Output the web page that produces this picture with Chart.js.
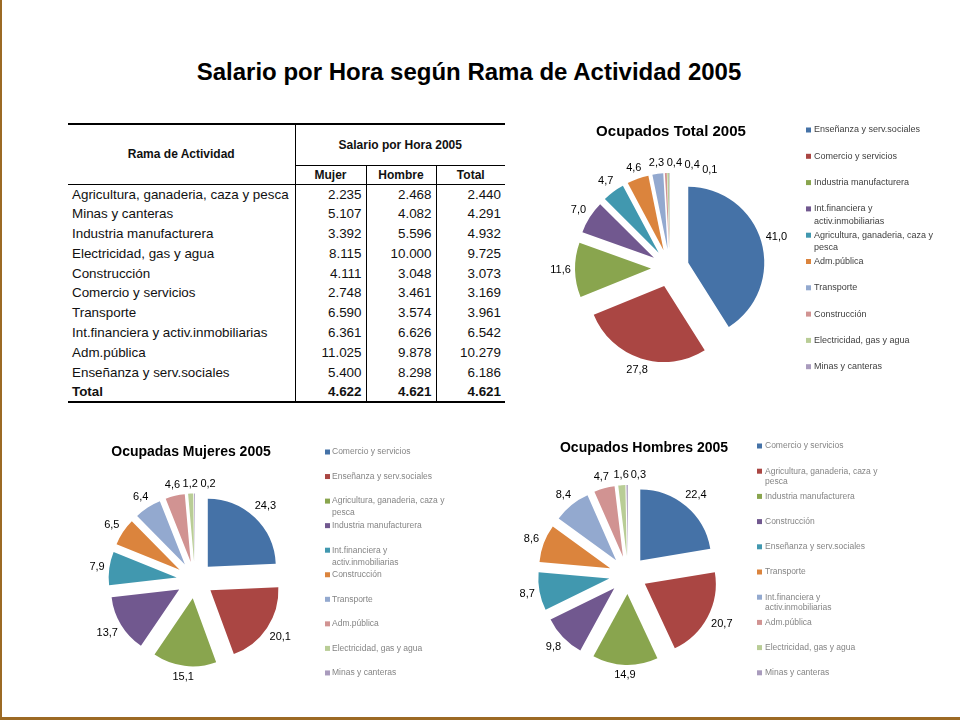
<!DOCTYPE html>
<html>
<head>
<meta charset="utf-8">
<script src="https://cdn.jsdelivr.net/npm/chart.js@4.4.1/dist/chart.umd.min.js"></script>
<style>
html,body{margin:0;padding:0;background:#fff;}
body{width:960px;height:720px;position:relative;overflow:hidden;font-family:"Liberation Sans",Arial,sans-serif;}
#frameL{position:absolute;left:0;top:0;width:2px;height:720px;background:#9C6A24;}
#frameB{position:absolute;left:0;top:717px;width:960px;height:3px;background:#9C6A24;}
#mainTitle{position:absolute;left:0;width:938px;top:58px;line-height:28px;text-align:center;font-weight:bold;font-size:24px;color:#000;}
#tbl{position:absolute;left:68px;top:123px;border-collapse:collapse;table-layout:fixed;width:437px;font-size:13.4px;color:#111;}
#tbl th,#tbl td{padding:0;white-space:nowrap;}
#tbl tr.h1{height:41px;}
#tbl tr.h2{height:19px;}
#tbl tr.d{height:19.8px;}
#tbl tr.h1 th{border-top:2px solid #000;font-size:12px;}
#tbl th.rama{border-right:1px solid #000;border-bottom:1px solid #000;}
#tbl th.sal{border-bottom:1px solid #000;}
#tbl tr.h2 th{border-bottom:1px solid #000;font-size:12px;}
#tbl tr.h2 th:not(:last-child){border-right:1px solid #000;}
#tbl td{text-align:right;padding-right:4px;}
#tbl td:not(:last-child){border-right:1px solid #000;}
#tbl td.lab{text-align:left;padding-left:4px;padding-right:0;}
#tbl tr.tot td{border-bottom:2px solid #000;font-weight:bold;}
canvas{position:absolute;}
</style>
</head>
<body>
<div id="frameL"></div>
<div id="frameB"></div>
<div id="mainTitle">Salario por Hora según Rama de Actividad 2005</div>
<table id="tbl"></table>
<canvas id="cTotal"></canvas>
<canvas id="cMujeres"></canvas>
<canvas id="cHombres"></canvas>
<script>
// ---------- Data ----------
const tableHeaders = ["Rama de Actividad", "Salario por Hora 2005"];
const columnLabels = ["Mujer", "Hombre", "Total"];
const sectors = ["Agricultura, ganaderia, caza y pesca","Minas y canteras","Industria manufacturera","Electricidad, gas y agua","Construcción","Comercio y servicios","Transporte","Int.financiera y activ.inmobiliarias","Adm.pública","Enseñanza y serv.sociales","Total"];
const salarioMujer  = [2235, 5107, 3392, 8115, 4111, 2748, 6590, 6361, 11025, 5400, 4622];
const salarioHombre = [2468, 4082, 5596, 10000, 3048, 3461, 3574, 6626, 9878, 8298, 4621];
const salarioTotal  = [2440, 4291, 4932, 9725, 3073, 3169, 3961, 6542, 10279, 6186, 4621];

const totalTitle = "Ocupados Total 2005";
const totalLabels = ["Enseñanza y serv.sociales","Comercio y servicios","Industria manufacturera","Int.financiera y activ.inmobiliarias","Agricultura, ganaderia, caza y pesca","Adm.pública","Transporte","Construcción","Electricidad, gas y agua","Minas y canteras"];
const totalValues = [41.0, 27.8, 11.6, 7.0, 4.7, 4.6, 2.3, 0.4, 0.4, 0.1];

const mujeresTitle = "Ocupadas Mujeres 2005";
const mujeresLabels = ["Comercio y servicios","Enseñanza y serv.sociales","Agricultura, ganaderia, caza y pesca","Industria manufacturera","Int.financiera y activ.inmobiliarias","Construcción","Transporte","Adm.pública","Electricidad, gas y agua","Minas y canteras"];
const mujeresValues = [24.3, 20.1, 15.1, 13.7, 7.9, 6.5, 6.4, 4.6, 1.2, 0.2];

const hombresTitle = "Ocupados Hombres 2005";
const hombresLabels = ["Comercio y servicios","Agricultura, ganaderia, caza y pesca","Industria manufacturera","Construcción","Enseñanza y serv.sociales","Transporte","Int.financiera y activ.inmobiliarias","Adm.pública","Electricidad, gas y agua","Minas y canteras"];
const hombresValues = [22.4, 20.7, 14.9, 9.8, 8.7, 8.6, 8.4, 4.7, 1.6, 0.3];

const sliceColors = ['#4572A7','#AA4643','#89A54E','#71588F','#4198AF','#DB843D','#93A9CF','#D19392','#B9CD96','#A99BBD'];

// ---------- Table ----------
function fmtInt(n){ return String(n).replace(/\B(?=(\d{3})+(?!\d))/g, '.'); }
function fmtDec(v){ return v.toFixed(1).replace('.', ','); }
(function buildTable(){
  let html = '<colgroup><col style="width:227px"><col style="width:71px"><col style="width:70px"><col style="width:69px"></colgroup>';
  html += '<tr class="h1"><th rowspan="2" class="rama">' + tableHeaders[0] + '</th><th colspan="3" class="sal">' + tableHeaders[1] + '</th></tr>';
  html += '<tr class="h2">' + columnLabels.map(c => '<th>' + c + '</th>').join('') + '</tr>';
  sectors.forEach((s, i) => {
    const cls = 'd' + (i === sectors.length - 1 ? ' tot' : '');
    html += '<tr class="' + cls + '"><td class="lab">' + s + '</td><td>' + fmtInt(salarioMujer[i]) + '</td><td>' + fmtInt(salarioHombre[i]) + '</td><td>' + fmtInt(salarioTotal[i]) + '</td></tr>';
  });
  document.getElementById('tbl').innerHTML = html;
})();

// ---------- Pies ----------
function wrapText(ctx, text, maxW){
  const words = text.split(' '); const lines = []; let cur = '';
  for (const w of words){
    const t = cur ? cur + ' ' + w : w;
    if (ctx.measureText(t).width > maxW && cur){ lines.push(cur); cur = w; } else cur = t;
  }
  lines.push(cur);
  return lines;
}

function makeDeco(cfg){
  return {
    id: 'deco',
    beforeDatasetsDraw(chart){
      const ca = chart.chartArea;
      const cx = (ca.left + ca.right) / 2, cy = (ca.top + ca.bottom) / 2;
      chart.getDatasetMeta(0).data.forEach(arc => {
        const mid = (arc.startAngle + arc.endAngle) / 2;
        arc.x = cx + Math.cos(mid) * cfg.explode;
        arc.y = cy + Math.sin(mid) * cfg.explode;
      });
    },
    afterDatasetsDraw(chart){
      const ctx = chart.ctx;
      const ds = chart.data.datasets[0];
      const meta = chart.getDatasetMeta(0);
      ctx.save();
      // data labels
      ctx.font = cfg.labelSize + 'px "Liberation Sans", Arial, sans-serif';
      ctx.fillStyle = '#000';
      ctx.textAlign = 'center';
      ctx.textBaseline = 'middle';
      const placed = [];
      const h = cfg.labelSize;
      meta.data.forEach((arc, i) => {
        const txt = fmtDec(ds.data[i]);
        const w = ctx.measureText(txt).width;
        let a = (arc.startAngle + arc.endAngle) / 2;
        let box;
        for (let k = 0; k < 300; k++){
          const dx = Math.cos(a), dy = Math.sin(a);
          const ext = Math.abs(dx) * w / 2 + Math.abs(dy) * h / 2;
          const d = arc.outerRadius + 4 + ext;
          const px = arc.x + dx * d, py = arc.y + dy * d;
          box = {x1: px - w/2 - 1, x2: px + w/2 + 1, y1: py - h/2, y2: py + h/2, px, py};
          if (!placed.some(b => b.x1 < box.x2 && box.x1 < b.x2 && b.y1 < box.y2 && box.y1 < b.y2)) break;
          a += Math.PI / 360;
        }
        placed.push(box);
        ctx.fillText(txt, box.px, box.py);
      });
      // title
      ctx.font = 'bold ' + cfg.titleSize + 'px "Liberation Sans", Arial, sans-serif';
      ctx.fillText(cfg.title, cfg.titleX - cfg.left, cfg.titleY - cfg.top);
      // legend
      ctx.font = cfg.legSize + 'px "Liberation Sans", Arial, sans-serif';
      ctx.textAlign = 'left';
      chart.data.labels.forEach((lab, i) => {
        const y = cfg.legY0 - cfg.top + i * cfg.legStep;
        ctx.fillStyle = ds.backgroundColor[i];
        ctx.fillRect(cfg.legBoxX - cfg.left, y - 2.5, 5, 5);
        ctx.fillStyle = cfg.legColor;
        const lines = wrapText(ctx, lab, cfg.legSize * 13.9);
        lines.forEach((ln, j) => ctx.fillText(ln, cfg.legTextX - cfg.left, y + j * cfg.legLineH));
      });
      ctx.restore();
    }
  };
}

function makePie(cfg){
  const cv = document.getElementById(cfg.id);
  cv.width = cfg.w; cv.height = cfg.h;
  cv.style.left = cfg.left + 'px'; cv.style.top = cfg.top + 'px';
  cv.style.width = cfg.w + 'px'; cv.style.height = cfg.h + 'px';
  const lx = cfg.cx - cfg.left, ly = cfg.cy - cfg.top;
  const pad = {left: lx - cfg.r, right: cfg.w - (lx + cfg.r), top: ly - cfg.r, bottom: cfg.h - (ly + cfg.r)};
  return new Chart(cv, {
    type: 'pie',
    data: {
      labels: cfg.labels,
      datasets: [{data: cfg.values, backgroundColor: sliceColors, borderWidth: 0, hoverBorderWidth: 0, hoverOffset: 0, clip: false}]
    },
    options: {
      responsive: false, animation: false, events: [],
      layout: {padding: pad},
      plugins: {legend: {display: false}, tooltip: {enabled: false}, title: {display: false}}
    },
    plugins: [makeDeco(cfg)]
  });
}

makePie({id:'cTotal', left:520, top:108, w:440, h:285, cx:670, cy:268, r:76, explode:19,
  labels: totalLabels, values: totalValues, title: totalTitle, titleSize:15, titleX:671, titleY:132,
  labelSize:11, legBoxX:806, legTextX:814, legY0:130, legStep:26.3, legSize:9, legLineH:12.5, legColor:'#404040'});
makePie({id:'cMujeres', left:60, top:430, w:400, h:265, cx:195, cy:580, r:68, explode:18.5,
  labels: mujeresLabels, values: mujeresValues, title: mujeresTitle, titleSize:14, titleX:191, titleY:452,
  labelSize:11, legBoxX:325, legTextX:332, legY0:452, legStep:24.55, legSize:8.5, legLineH:12, legColor:'#858585'});
makePie({id:'cHombres', left:490, top:425, w:470, h:270, cx:628, cy:575, r:71, explode:19,
  labels: hombresLabels, values: hombresValues, title: hombresTitle, titleSize:14, titleX:644, titleY:448,
  labelSize:11, legBoxX:757, legTextX:765, legY0:446, legStep:25.2, legSize:8.5, legLineH:10.5, legColor:'#858585'});
</script>
</body>
</html>
